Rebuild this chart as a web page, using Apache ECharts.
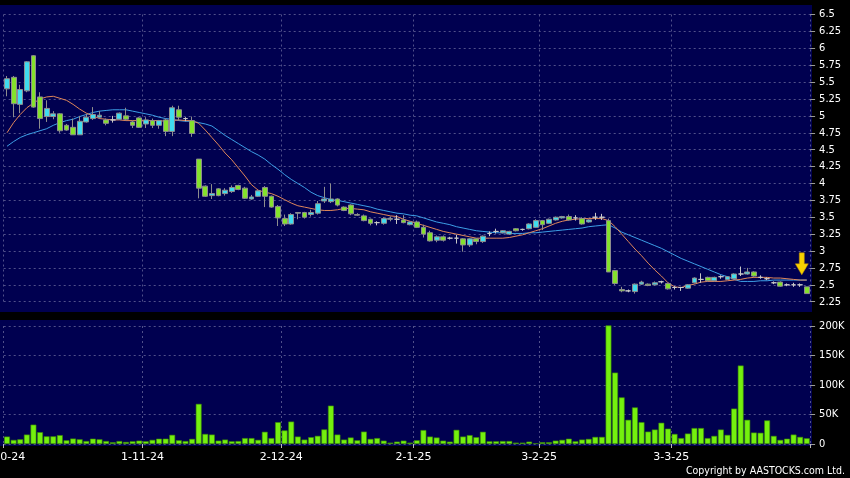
<!DOCTYPE html>
<html>
<head>
<meta charset="utf-8">
<script src="https://cdn.jsdelivr.net/npm/echarts@6/dist/echarts.min.js"></script>
<style>
html,body{margin:0;padding:0;background:#000;}
#c{width:850px;height:478px;}
</style>
</head>
<body>
<div id="c"></div>
<script>
const dates = [
'2-10-24','3-10-24','4-10-24','7-10-24','8-10-24','9-10-24','10-10-24','14-10-24','15-10-24','16-10-24','17-10-24','18-10-24','21-10-24','22-10-24','23-10-24','24-10-24','25-10-24','28-10-24','29-10-24','30-10-24','31-10-24',
'1-11-24','4-11-24','5-11-24','6-11-24','7-11-24','8-11-24','11-11-24','12-11-24','13-11-24','14-11-24','15-11-24','18-11-24','19-11-24','20-11-24','21-11-24','22-11-24','25-11-24','26-11-24','27-11-24','28-11-24','29-11-24',
'2-12-24','3-12-24','4-12-24','5-12-24','6-12-24','9-12-24','10-12-24','11-12-24','12-12-24','13-12-24','16-12-24','17-12-24','18-12-24','19-12-24','20-12-24','23-12-24','24-12-24','27-12-24','30-12-24','31-12-24',
'2-1-25','3-1-25','6-1-25','7-1-25','8-1-25','9-1-25','10-1-25','13-1-25','14-1-25','15-1-25','16-1-25','17-1-25','20-1-25','21-1-25','22-1-25','23-1-25','24-1-25','27-1-25','28-1-25',
'3-2-25','4-2-25','5-2-25','6-2-25','7-2-25','10-2-25','11-2-25','12-2-25','13-2-25','14-2-25','17-2-25','18-2-25','19-2-25','20-2-25','21-2-25','24-2-25','25-2-25','26-2-25','27-2-25','28-2-25',
'3-3-25','4-3-25','5-3-25','6-3-25','7-3-25','10-3-25','11-3-25','12-3-25','13-3-25','14-3-25','17-3-25','18-3-25','19-3-25','20-3-25','21-3-25','24-3-25','25-3-25','26-3-25','27-3-25','28-3-25','31-3-25'
];

// [open, close, low, high]
const ohlc = [
[5.40,5.55,5.29,5.59],[5.57,5.18,4.98,5.59],[5.17,5.39,5.04,5.46],[5.37,5.80,5.35,5.81],[5.89,5.13,5.12,5.90],
[5.28,4.96,4.81,5.35],[4.99,5.11,4.91,5.23],[4.99,5.03,4.95,5.07],[5.03,4.78,4.75,5.04],[4.86,4.79,4.78,4.88],
[4.83,4.72,4.72,4.96],[4.72,4.92,4.72,5.00],[4.91,4.98,4.90,5.03],[4.96,5.02,4.94,5.13],[4.98,5.01,4.96,5.07],
[4.94,4.89,4.86,4.96],[4.94,4.94,4.90,5.00],[4.95,5.04,4.94,5.05],[5.00,4.95,4.93,5.12],[4.91,4.86,4.82,4.93],
[4.97,4.83,4.82,4.98],[4.88,4.94,4.82,4.98],[4.93,4.86,4.82,4.96],[4.86,4.93,4.81,4.94],[4.94,4.77,4.70,4.96],
[4.77,5.12,4.70,5.15],[5.09,4.98,4.93,5.15],[4.96,4.96,4.92,4.98],[4.93,4.74,4.69,4.99],[4.36,3.93,3.78,4.36],
[3.96,3.81,3.80,3.97],[3.82,3.85,3.77,3.99],[3.92,3.82,3.81,3.93],[3.85,3.90,3.82,3.93],[3.88,3.94,3.86,3.97],
[3.97,3.91,3.90,3.98],[3.93,3.78,3.77,3.95],[3.77,3.80,3.76,3.83],[3.81,3.89,3.80,3.90],[3.94,3.81,3.65,3.96],
[3.81,3.65,3.64,3.82],[3.66,3.49,3.37,3.68],[3.48,3.40,3.37,3.54],[3.40,3.54,3.39,3.56],[3.56,3.57,3.47,3.57],
[3.57,3.50,3.48,3.58],[3.54,3.57,3.51,3.61],[3.56,3.70,3.54,3.74],[3.74,3.77,3.71,3.95],[3.73,3.77,3.71,4.00],
[3.77,3.68,3.66,3.78],[3.65,3.60,3.59,3.66],[3.68,3.55,3.53,3.69],[3.54,3.53,3.52,3.56],[3.52,3.45,3.44,3.54],
[3.47,3.41,3.38,3.48],[3.42,3.42,3.38,3.44],[3.41,3.48,3.39,3.50],[3.47,3.48,3.44,3.51],[3.47,3.47,3.40,3.53],
[3.46,3.42,3.41,3.53],[3.39,3.43,3.38,3.44],[3.43,3.35,3.34,3.45],[3.35,3.25,3.20,3.39],[3.27,3.15,3.14,3.30],
[3.16,3.21,3.13,3.23],[3.21,3.16,3.14,3.23],[3.19,3.19,3.17,3.21],[3.19,3.19,3.11,3.24],[3.18,3.09,2.99,3.19],
[3.09,3.18,3.06,3.19],[3.18,3.14,3.10,3.19],[3.14,3.22,3.12,3.23],[3.26,3.26,3.22,3.29],[3.29,3.29,3.26,3.33],
[3.27,3.30,3.26,3.31],[3.25,3.29,3.24,3.30],[3.33,3.30,3.29,3.34],[3.32,3.32,3.30,3.33],[3.33,3.40,3.32,3.41],
[3.35,3.45,3.34,3.47],[3.45,3.39,3.31,3.46],[3.41,3.47,3.40,3.48],[3.46,3.50,3.45,3.51],[3.49,3.51,3.48,3.52],
[3.51,3.46,3.45,3.54],[3.49,3.49,3.45,3.53],[3.48,3.40,3.39,3.50],[3.43,3.46,3.42,3.47],[3.50,3.50,3.46,3.565],
[3.50,3.50,3.46,3.55],[3.45,2.69,2.69,3.48],[2.71,2.52,2.50,2.72],[2.43,2.41,2.39,2.47],[2.41,2.41,2.39,2.43],
[2.40,2.51,2.37,2.52],[2.51,2.54,2.50,2.56],[2.51,2.49,2.48,2.52],[2.50,2.53,2.49,2.55],[2.545,2.545,2.52,2.56],
[2.52,2.44,2.43,2.53],[2.46,2.46,2.43,2.48],[2.46,2.46,2.41,2.47],[2.45,2.50,2.44,2.51],[2.53,2.60,2.52,2.61],
[2.58,2.58,2.53,2.67],[2.61,2.56,2.55,2.62],[2.56,2.61,2.55,2.62],[2.62,2.62,2.59,2.64],[2.58,2.62,2.57,2.63],
[2.59,2.66,2.58,2.67],[2.66,2.66,2.63,2.77],[2.66,2.69,2.65,2.75],[2.69,2.63,2.62,2.70],[2.61,2.61,2.59,2.64],
[2.59,2.59,2.57,2.61],[2.53,2.53,2.51,2.55],[2.54,2.48,2.47,2.55],[2.50,2.50,2.48,2.52],[2.50,2.50,2.47,2.53],
[2.50,2.50,2.47,2.52],[2.47,2.37,2.37,2.47]
];

const maShort = [
4.75,4.90,5.02,5.12,5.19,5.25,5.28,5.29,5.26,5.23,
5.17,5.10,5.04,5.00,4.96,4.95,4.94,4.94,4.93,4.93,
4.93,4.93,4.93,4.93,4.92,4.93,4.94,4.93,4.93,4.89,
4.79,4.68,4.57,4.45,4.35,4.23,4.11,3.98,3.90,3.87,
3.85,3.81,3.76,3.71,3.67,3.65,3.63,3.61,3.60,3.60,
3.61,3.63,3.63,3.62,3.61,3.58,3.56,3.54,3.52,3.51,
3.47,3.44,3.41,3.38,3.35,3.32,3.29,3.27,3.25,3.23,
3.21,3.19,3.19,3.19,3.19,3.19,3.20,3.22,3.24,3.27,
3.30,3.33,3.37,3.41,3.44,3.46,3.47,3.48,3.48,3.48,
3.48,3.45,3.36,3.25,3.14,3.03,2.93,2.82,2.72,2.63,
2.53,2.47,2.46,2.49,2.51,2.54,2.55,2.55,2.55,2.56,
2.57,2.58,2.60,2.61,2.61,2.61,2.60,2.60,2.59,2.58,
2.57,2.57
];

const maLong = [
4.55,4.62,4.68,4.72,4.75,4.78,4.81,4.86,4.90,4.93,
4.95,4.99,5.02,5.05,5.07,5.08,5.09,5.09,5.09,5.07,
5.05,5.03,5.01,4.98,4.96,4.95,4.93,4.92,4.92,4.90,
4.88,4.85,4.78,4.71,4.65,4.59,4.53,4.47,4.42,4.36,
4.28,4.21,4.13,4.06,4.00,3.94,3.87,3.82,3.79,3.76,
3.75,3.73,3.71,3.69,3.67,3.65,3.62,3.60,3.58,3.56,
3.55,3.53,3.52,3.49,3.46,3.43,3.41,3.39,3.36,3.34,
3.32,3.30,3.29,3.28,3.27,3.27,3.26,3.26,3.26,3.27,
3.27,3.28,3.29,3.30,3.31,3.32,3.33,3.34,3.36,3.37,
3.38,3.39,3.34,3.28,3.24,3.20,3.16,3.12,3.08,3.04,
2.99,2.94,2.89,2.85,2.81,2.77,2.73,2.69,2.65,2.62,
2.58,2.55,2.55,2.55,2.56,2.56,2.57,2.57,2.57,2.57,
2.57,2.57
];

// volume in thousands of shares
const volumeK = [
12.6,6.9,8,16,32.8,20,13,13,15,6.3,9.2,8,5,9,8,5,3,5,3.5,4.6,5.7,4.6,7,9,9,15.5,6.3,5,8.6,68,
17,16,5.7,7.5,4.6,5,10,10,7,20.7,10,37,23,38,12.6,7.5,11.5,13.8,24.7,65,16,7.5,11,6.3,21,8.6,10,5.7,2.3,4,5.7,
2.3,6.3,23.6,12.6,11,5.7,4,24,12.6,15,11.5,20.7,4.6,4.6,5,5,2.3,2.3,4,1.2,3,3,5.7,7,9,4.6,7.5,8.6,12,12,
201,121,79,41,62,37,21,24.5,36,26,17,10,17.7,27,27,10,13.7,24.5,15.4,60,133,41,19.4,19,40,13.7,6.9,9,16,12,9.7
];

const priceTicks = {min: 2.25, max: 6.5, step: 0.25};
const volumeTicks = {min: 0, max: 200000, step: 50000};

const monthStart = dates.map((d, i) => i === 0 || d.split('-')[1] !== dates[i - 1].split('-')[1]);

const FONT = "'DejaVu Sans Condensed','Liberation Sans Narrow','DejaVu Sans',sans-serif";
const FONT_X = "'DejaVu Sans','Liberation Sans',sans-serif";
const NAVY = '#000050';
const GRIDLINE = {color: '#50508a', type: [2, 3], width: 1};
const UP = '#40dcef';
const DOWN = '#84e22c';

const chart = echarts.init(document.getElementById('c'), null, {renderer: 'canvas'});

const xBase = {
  type: 'category',
  data: dates,
  boundaryGap: true,
  axisLine: {show: false},
  splitLine: {show: true, interval: (i) => monthStart[i], lineStyle: GRIDLINE}
};

chart.setOption({
  backgroundColor: '#000000',
  animation: false,
  graphic: [
    {type: 'rect', z: -10, shape: {x: 0, y: 5, width: 812, height: 307}, style: {fill: NAVY}},
    {type: 'rect', z: -10, shape: {x: 0, y: 320, width: 812, height: 126}, style: {fill: NAVY}},
    {type: 'text', right: 5, bottom: 1, z: 10,
     style: {text: 'Copyright by AASTOCKS.com Ltd.', fill: '#ffffff', font: "10.5px " + FONT}}
  ],
  grid: [
    {left: 3.7, right: 39.9, top: 14.5, bottom: 176.3, containLabel: false, outerBoundsMode: 'none'},
    {left: 3.7, right: 39.9, top: 326, bottom: 34, containLabel: false, outerBoundsMode: 'none'}
  ],
  xAxis: [
    Object.assign({}, xBase, {gridIndex: 0, axisTick: {show: false}, axisLabel: {show: false}}),
    Object.assign({}, xBase, {
      gridIndex: 1,
      axisTick: {show: true, interval: (i) => monthStart[i], length: 4, lineStyle: {color: '#bbbbbb'}},
      axisLabel: {show: true, interval: (i) => monthStart[i], color: '#ffffff',
        fontFamily: FONT_X, fontSize: 11, margin: 8, padding: [0, 6.6, 0, 0]}
    })
  ],
  yAxis: [
    {type: 'value', gridIndex: 0, position: 'right', min: priceTicks.min, max: priceTicks.max, interval: priceTicks.step,
     axisLine: {show: false}, axisTick: {show: true, length: 5, lineStyle: {color: '#9a9a9a'}},
     axisLabel: {color: '#ffffff', fontFamily: FONT, fontSize: 11, margin: 9},
     splitLine: {show: true, lineStyle: GRIDLINE}},
    {type: 'value', gridIndex: 1, position: 'right', min: volumeTicks.min, max: volumeTicks.max, interval: volumeTicks.step,
     axisLine: {show: false}, axisTick: {show: true, length: 5, lineStyle: {color: '#9a9a9a'}},
     axisLabel: {color: '#ffffff', fontFamily: FONT, fontSize: 11, margin: 9,
       formatter: (v) => v === 0 ? '0' : (v / 1000) + 'K'},
     splitLine: {show: true, lineStyle: GRIDLINE}}
  ],
  series: [
    {
      type: 'line', xAxisIndex: 0, yAxisIndex: 0, data: maLong, symbol: 'none', z: 3,
      lineStyle: {color: '#3d9fe6', width: 1}
    },
    {
      type: 'line', xAxisIndex: 0, yAxisIndex: 0, data: maShort, symbol: 'none', z: 3,
      lineStyle: {color: '#e0875a', width: 1}
    },
    {
      type: 'candlestick', xAxisIndex: 0, yAxisIndex: 0, data: ohlc, barWidth: '80%', z: 4,
      itemStyle: {color: UP, color0: DOWN, borderColor: '#8e8e8e', borderColor0: '#8e8e8e',
        borderColorDoji: '#c8c8c8', borderWidth: 1},
      markPoint: {
        data: [{coord: [dates.length - 1, ohlc[ohlc.length - 1][3]]}],
        symbol: 'path://M4,0 L9,0 L9,11 L13,11 L6.5,22 L0,11 L4,11 Z',
        symbolSize: [13, 22], symbolOffset: [-5, -23],
        itemStyle: {color: '#f5d000', borderColor: '#c89000', borderWidth: 0.5},
        label: {show: false}
      }
    },
    {
      type: 'bar', xAxisIndex: 1, yAxisIndex: 1, data: volumeK.map(v => v * 1000),
      barCategoryGap: '12%', clip: false,
      itemStyle: {color: '#74f00e', borderColor: '#3a8a06', borderWidth: 0.6}
    }
  ]
});
</script>
</body>
</html>
